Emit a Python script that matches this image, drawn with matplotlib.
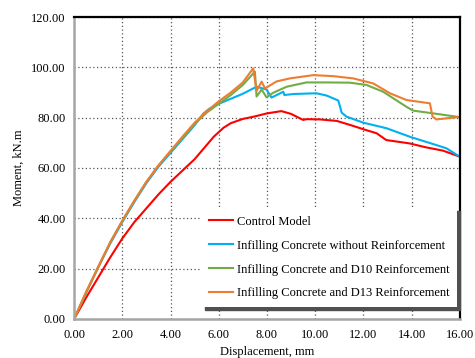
import matplotlib
matplotlib.use("Agg")
import matplotlib.pyplot as plt
from matplotlib.ticker import FormatStrFormatter

plt.rcParams['font.family'] = ['Liberation Serif', 'DejaVu Serif']

# Control Model
ctrl_x = [0, 0.5, 1.0, 1.5, 2.0, 2.5, 3.0, 3.5, 4.0, 4.5, 5.0, 5.4, 5.8, 6.2, 6.5, 7.0, 7.5,
          8.0, 8.6, 9.0, 9.5, 9.65, 10.2, 10.9, 11.45, 12.1, 12.55, 12.95, 13.9, 14.6, 15.3, 16.0]
ctrl_y = [0, 8.5, 16.5, 24.5, 32.0, 38.5, 44.0, 49.5, 54.5, 59.0, 63.5, 68.0, 72.5, 76.0, 77.8, 79.5, 80.5,
          81.7, 82.6, 81.5, 79.1, 79.4, 79.3, 78.7, 77.1, 75.1, 73.8, 71.1, 69.8, 68.2, 66.9, 64.5]

# Infilling Concrete without Reinforcement
noreb_x = [0, 0.5, 1.0, 1.5, 2.0, 2.5, 3.0, 3.5, 4.0, 4.5, 5.0, 5.35, 5.6, 6.0, 6.5, 7.0, 7.57,
           7.98, 8.19, 8.47, 8.68, 8.72, 9.1, 10.05, 10.47, 10.96, 11.1, 11.3, 12.0, 12.96, 13.93, 14.9, 15.45, 16.0]
noreb_y = [0, 10.5, 20.5, 30.0, 38.5, 46.5, 54.0, 60.5, 66.0, 71.5, 77.0, 81.5, 83.5, 85.5, 87.5, 89.5, 92.3,
           91.2, 88.0, 89.3, 90.3, 89.0, 89.4, 89.7, 88.8, 86.8, 82.0, 80.4, 78.0, 75.8, 72.4, 69.5, 67.8, 64.5]

# Infilling Concrete and D10 Reinforcement
d10_x = [0, 0.5, 1.0, 1.5, 2.0, 2.5, 3.0, 3.5, 4.0, 4.5, 5.0, 5.5, 6.0, 6.5, 7.0, 7.5,
         7.57, 7.78, 7.98, 8.26, 8.82, 9.64, 10.47, 11.44, 12.13, 12.82, 13.79, 14.06, 14.9, 16.0]
d10_y = [0, 10.5, 20.5, 30.5, 39.0, 47.0, 54.5, 61.0, 66.5, 72.0, 77.5, 82.0, 85.5, 89.0, 93.0, 98.3,
         88.4, 91.2, 88.1, 89.9, 92.3, 94.0, 94.0, 93.9, 93.0, 90.3, 84.3, 82.8, 81.7, 80.2]

# Infilling Concrete and D13 Reinforcement
d13_x = [0, 0.5, 1.0, 1.5, 2.0, 2.5, 3.0, 3.5, 4.0, 4.5, 5.0, 5.5, 6.0, 6.5, 7.0, 7.43,
         7.57, 7.78, 7.92, 8.4, 8.95, 9.92, 10.75, 11.58, 12.41, 13.1, 13.79, 14.76, 14.87, 15.03, 16.0]
d13_y = [0, 10.8, 20.8, 30.5, 39.0, 47.0, 54.5, 61.0, 66.8, 72.5, 78.0, 82.5, 86.5, 90.0, 94.0, 99.6,
         90.7, 94.3, 91.6, 94.4, 95.6, 96.9, 96.5, 95.6, 93.6, 89.7, 87.0, 85.7, 80.4, 79.3, 80.3]

labels = ["Control Model",
          "Infilling Concrete without Reinforcement",
          "Infilling Concrete and D10 Reinforcement",
          "Infilling Concrete and D13 Reinforcement"]
colors = ["#FF0000", "#00B0F0", "#70AD47", "#ED7D31"]

fig = plt.figure(figsize=(4.75, 3.58), dpi=100)
ax = fig.add_axes([0.156, 0.109, 0.812, 0.8435])

series = [(ctrl_x, ctrl_y), (noreb_x, noreb_y), (d10_x, d10_y), (d13_x, d13_y)]
for (xs, ys), lab, col in zip(series, labels, colors):
    ax.plot(xs, ys, color=col, lw=1.5, label=lab)

ax.set_xlim(0, 16)
ax.set_ylim(0, 120)
ax.set_xticks(range(0, 17, 2))
ax.set_yticks(range(0, 121, 20))
ax.xaxis.set_major_formatter(FormatStrFormatter('%.2f'))
ax.yaxis.set_major_formatter(FormatStrFormatter('%.2f'))
ax.tick_params(length=0, labelsize=9)
ax.tick_params(axis='x', pad=7)
ax.tick_params(axis='y', pad=6)
ax.grid(True, linestyle=(0, (1, 2)), color='#555555', lw=0.9)
ax.set_axisbelow(True)

for s in ['left', 'bottom']:
    ax.spines[s].set_color('#A6A6A6')
    ax.spines[s].set_linewidth(1.8)
for s in ['top', 'right']:
    ax.spines[s].set_color('black')
    ax.spines[s].set_linewidth(1.6)

ax.set_xlabel("Displacement, mm", fontsize=9, labelpad=4)
ax.set_ylabel("Moment, kN.m", fontsize=9, labelpad=5)

leg = ax.legend(loc='lower right', bbox_to_anchor=(0.993, 0.04), fontsize=9,
                frameon=True, fancybox=False, edgecolor='none', facecolor='white',
                framealpha=1, handlelength=1.9, labelspacing=0.95, handletextpad=0.3,
                borderpad=0.6, shadow={'color': '#505050', 'alpha': 1}, borderaxespad=0)

fig.savefig("out.png", dpi=100)
